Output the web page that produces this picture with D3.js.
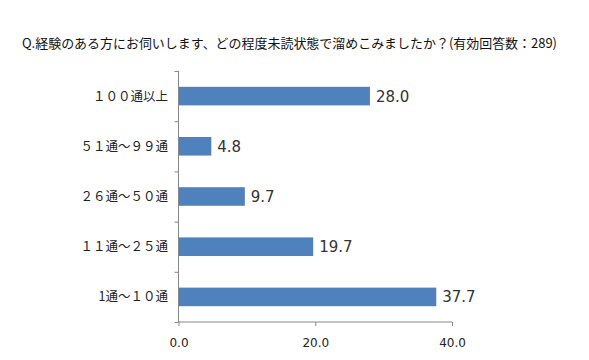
<!DOCTYPE html>
<html><head><meta charset="utf-8">
<script src="https://cdn.jsdelivr.net/npm/d3@7"></script>
<style>body{margin:0;background:#fff}</style>
</head><body>
<svg id="c" width="589" height="360"></svg>
<script>
const title = "Q.経験のある方にお伺いします、どの程度未読状態で溜めこみましたか？(有効回答数：289)";
const categories = ["１００通以上", "５１通～９９通", "２６通～５０通", "１１通～２５通", "1通～１０通"];
const values = [28.0, 4.8, 9.7, 19.7, 37.7];
const xTicks = [0, 20, 40];

const svg = d3.select("#c");
const m = {left: 178.5, right: 452, top: 71, bottom: 322};
const x = d3.scaleLinear().domain([0, 40]).range([m.left, m.right]);
const y = d3.scaleBand().domain(categories).range([m.top, m.bottom]).paddingInner(0.63).paddingOuter(0.315);

svg.append("text").attr("x", 22).attr("y", 48)
  .attr("font-family", "'Noto Sans CJK JP', sans-serif").attr("font-size", 13)
  .attr("fill", "#111").attr("textLength", 535).attr("lengthAdjust", "spacingAndGlyphs")
  .text(title);

svg.selectAll("rect.bar").data(values).join("rect").attr("class", "bar")
  .attr("x", x(0)).attr("y", (d, i) => y(categories[i]))
  .attr("width", d => x(d) - x(0)).attr("height", y.bandwidth())
  .attr("fill", "#4F81BD");

svg.selectAll("text.val").data(values).join("text").attr("class", "val")
  .attr("x", d => x(d) + 6).attr("y", (d, i) => y(categories[i]) + y.bandwidth() / 2)
  .attr("dy", "0.36em").attr("font-family", "'DejaVu Sans', Verdana, sans-serif")
  .attr("font-size", 15).attr("fill", "#333").text(d => d.toFixed(1));

// y axis
const yb = d3.scaleLinear().domain([0, categories.length]).range([m.top, m.bottom]);
const yAxis = svg.append("g").attr("transform", `translate(${m.left},0)`)
  .call(d3.axisLeft(yb).tickValues(d3.range(0, categories.length + 1)).tickSize(4).tickFormat(""));
yAxis.selectAll("line,path").attr("stroke", "#888");
yAxis.select(".domain").attr("d", `M0,${m.top}V${m.bottom}`);

svg.selectAll("text.cat").data(categories).join("text").attr("class", "cat")
  .attr("x", 168).attr("y", d => y(d) + y.bandwidth() / 2).attr("dy", "0.36em")
  .attr("text-anchor", "end").attr("font-family", "'Noto Sans CJK JP', sans-serif")
  .attr("font-size", 12.5).attr("fill", "#222").text(d => d);

// x axis
const xAxis = svg.append("g").attr("transform", `translate(0,${m.bottom})`)
  .call(d3.axisBottom(x).tickValues(xTicks).tickSize(4).tickPadding(12).tickFormat(d => d.toFixed(1)));
xAxis.selectAll("line,path").attr("stroke", "#888");
xAxis.select(".domain").attr("d", `M${m.left},0H${m.right}`);
xAxis.selectAll("text").attr("font-family", "'DejaVu Sans', Verdana, sans-serif").attr("font-size", 12).attr("fill", "#222");
</script>
</body></html>
